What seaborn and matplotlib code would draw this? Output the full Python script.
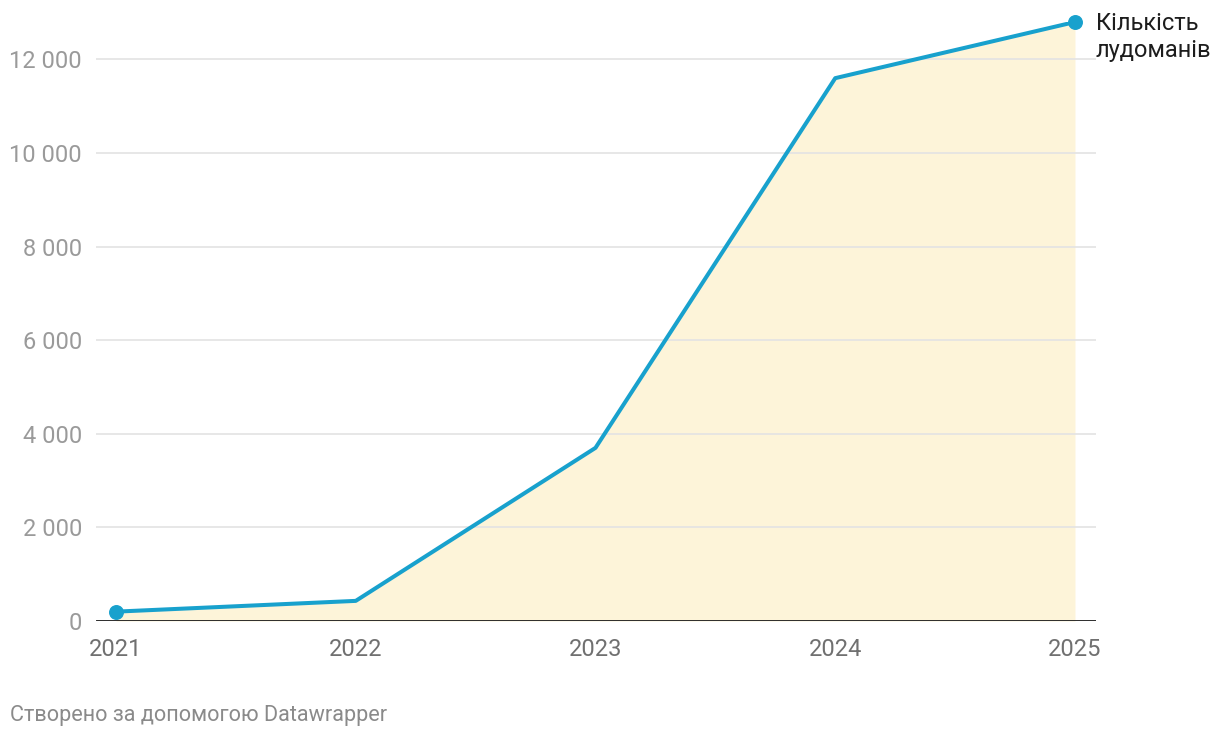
import matplotlib
matplotlib.use("Agg")
import matplotlib.pyplot as plt
import matplotlib.ticker as mticker
import seaborn as sns
import pandas as pd

# data
years = [2021, 2022, 2023, 2024, 2025]
gamblers = [200, 430, 3700, 11600, 12800]
y_ticks = [0, 2000, 4000, 6000, 8000, 10000, 12000]
series_label = "Кількість\nлудоманів"
footer = "Створено за допомогою Datawrapper"

df = pd.DataFrame({"year": years, "count": gamblers})

sns.set_style("white")
plt.rcParams["font.family"] = ["Roboto", "DejaVu Sans"]

line_col = "#18a1cd"
fill_col = "#fdf4d9"

fig = plt.figure(figsize=(12.2, 7.38), dpi=100)
ax = fig.add_axes([96 / 1220, 1 - 621 / 738, 1000 / 1220, (621 - 22) / 738])

ax.fill_between(df["year"], 0, df["count"], color=fill_col, lw=0, zorder=1)
sns.lineplot(data=df, x="year", y="count", color=line_col, lw=2.9, ax=ax, zorder=3)
ends = df.iloc[[0, -1]]
ax.scatter(ends["year"], ends["count"], s=95, color=line_col, zorder=4, clip_on=False)

ax.set_xlim(2020.9166, 2025.0876)
ax.set_ylim(0, 12800)
ax.set_yticks(y_ticks)
ax.set_xticks(years)
ax.yaxis.set_major_formatter(mticker.FuncFormatter(lambda v, p: f"{int(v):,}".replace(",", " ")))

for y in y_ticks[1:]:
    ax.axhline(y, color="#e3e3e3", lw=1.2, zorder=2)
ax.axhline(0, color="#1a1a1a", lw=2, zorder=5)

for s in ax.spines.values():
    s.set_visible(False)
ax.tick_params(axis="y", length=0, pad=10, labelsize=17, labelcolor="#9a9a9a")
ax.tick_params(axis="x", length=0, pad=12, labelsize=17, labelcolor="#707070")
ax.set_xlabel("")
ax.set_ylabel("")

ax.text(1096 / 1220, 1 - 37 / 738, series_label, transform=fig.transFigure,
        fontsize=17, color="#1d1d1d", ha="left", va="center", linespacing=1.27)
fig.text(10 / 1220, 1 - 715 / 738, footer, fontsize=15.6, color="#8a8a8a",
         ha="left", va="center")

fig.savefig("out.png", dpi=100)
